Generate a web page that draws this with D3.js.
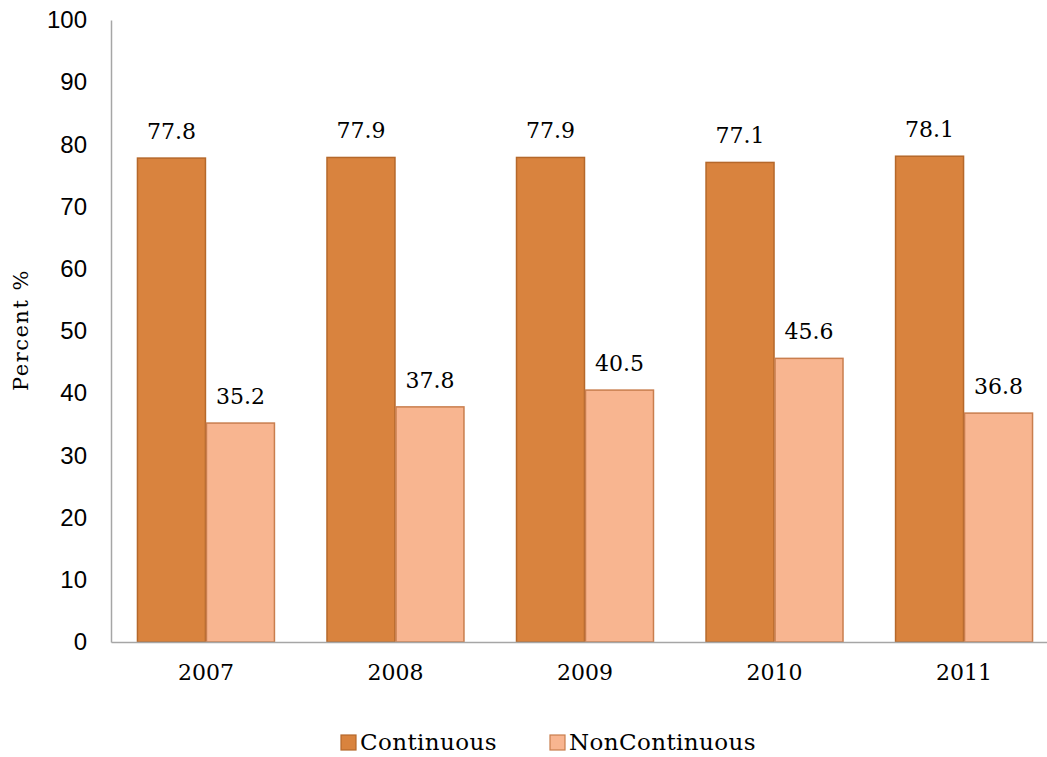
<!DOCTYPE html>
<html>
<head>
<meta charset="utf-8">
<script src="https://cdn.jsdelivr.net/npm/d3@7"></script>
<style>
  html, body { margin: 0; padding: 0; background: #fff; }
  svg { display: block; }
</style>
</head>
<body>
<svg id="chart" width="1047" height="757"></svg>
<script>
// Share of students by enrolment pattern, per year
const years = ["2007", "2008", "2009", "2010", "2011"];
const continuous = [77.8, 77.9, 77.9, 77.1, 78.1];
const nonContinuous = [35.2, 37.8, 40.5, 45.6, 36.8];
const seriesNames = ["Continuous", "NonContinuous"];
const yTicks = [0, 10, 20, 30, 40, 50, 60, 70, 80, 90, 100];

const fills = ["#d9833e", "#f8b590"];
const strokes = ["#b5682b", "#c97e4e"];
const serif = "'DejaVu Serif', 'Liberation Serif', serif";
const sans = "'Liberation Sans', Arial, sans-serif";

const svg = d3.select("#chart");
const plot = { left: 111, right: 1059, top: 20, bottom: 642 };

const y = d3.scaleLinear().domain([0, 100]).range([plot.bottom, plot.top]);
const x0 = d3.scaleBand().domain(years).range([plot.left, plot.right]).paddingInner(0.272).paddingOuter(0.137);
const x1 = d3.scaleBand().domain(seriesNames).range([0, x0.bandwidth()]);

const rows = years.map((yr, i) => ({ year: yr, values: [continuous[i], nonContinuous[i]] }));

// y axis: line + labels only
const yAxis = d3.axisLeft(y).tickValues(yTicks).tickSize(0).tickPadding(24);
const gy = svg.append("g").attr("transform", `translate(${plot.left},0)`).call(yAxis);
gy.select(".domain").attr("stroke", "#a6a6a6").attr("stroke-width", 1.5);
gy.selectAll("text").attr("font-family", sans).attr("font-size", 24).attr("fill", "#000");

// bars
const groups = svg.append("g").selectAll("g").data(rows).join("g")
  .attr("transform", d => `translate(${x0(d.year)},0)`);

groups.selectAll("rect").data(d => d.values.map((v, k) => ({ v, k })))
  .join("rect")
  .attr("x", d => x1(seriesNames[d.k]) + 0.5)
  .attr("width", x1.bandwidth() - 1)
  .attr("y", d => y(d.v))
  .attr("height", d => y(0) - y(d.v))
  .attr("fill", d => fills[d.k])
  .attr("stroke", d => strokes[d.k])
  .attr("stroke-width", 1.5);

groups.selectAll("text.value").data(d => d.values.map((v, k) => ({ v, k })))
  .join("text")
  .attr("class", "value")
  .attr("x", d => x1(seriesNames[d.k]) + x1.bandwidth() / 2)
  .attr("y", d => y(d.v) - 19)
  .attr("text-anchor", "middle")
  .attr("font-family", serif)
  .attr("font-size", 22)
  .attr("fill", "#000")
  .text(d => d.v.toFixed(1));

// x axis: baseline + category labels
const xAxis = d3.axisBottom(x0).tickSize(0).tickPadding(22);
const gx = svg.append("g").attr("transform", `translate(0,${plot.bottom})`).call(xAxis);
gx.select(".domain").attr("stroke", "#a6a6a6").attr("stroke-width", 1.5);
gx.selectAll("text").attr("font-family", serif).attr("font-size", 22).attr("fill", "#000");

// y axis title
svg.append("text")
  .attr("transform", `translate(28,330) rotate(-90)`)
  .attr("text-anchor", "middle")
  .attr("font-family", serif)
  .attr("font-size", 21)
  .attr("letter-spacing", 1.5)
  .attr("fill", "#000")
  .text("Percent %");

// legend
const legendX = [341, 550];
const legend = svg.append("g").selectAll("g").data(seriesNames).join("g")
  .attr("transform", (d, i) => `translate(${legendX[i]},735)`);
legend.append("rect")
  .attr("width", 15).attr("height", 15)
  .attr("fill", (d, i) => fills[i])
  .attr("stroke", (d, i) => strokes[i])
  .attr("stroke-width", 1.2);
legend.append("text")
  .attr("x", 19).attr("y", 15)
  .attr("font-family", serif)
  .attr("font-size", 23)
  .attr("letter-spacing", 0.4)
  .attr("fill", "#000")
  .text(d => d);
</script>
</body>
</html>
